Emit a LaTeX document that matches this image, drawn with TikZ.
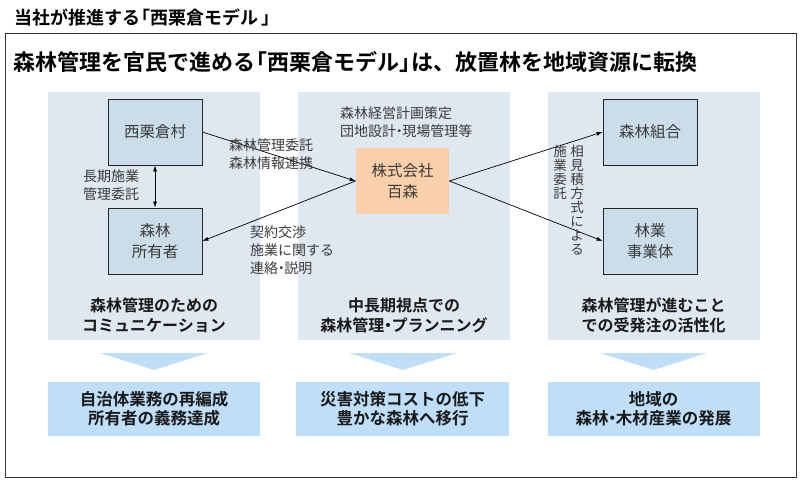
\documentclass[tikz,border=0pt]{standalone}
\usepackage{fontspec}
\setmainfont{Noto Sans CJK JP}[BoldFont={Noto Sans CJK JP Bold}]
\usetikzlibrary{arrows.meta}
\definecolor{panelbg}{HTML}{DFE8F0}
\definecolor{nodefill}{HTML}{CCDDEA}
\definecolor{orangefill}{HTML}{FAD0AA}
\definecolor{skyblue}{HTML}{BEDFF7}
\definecolor{txt}{HTML}{3A3A3A}
\newcommand{\lbrk}{\kern-0.45em「}
\newcommand{\rbrk}{」\kern-0.45em}
\newcommand{\nakaguro}{\kern-0.28em・\kern-0.28em}
\begin{document}
\begin{tikzpicture}[x=1pt,y=-1pt,
  panelbox/.style={fill=panelbg, draw=none, minimum width=212pt, minimum height=248pt, inner sep=0pt},
  nbox/.style={draw=black!85, fill=nodefill, minimum width=94pt, minimum height=66pt, align=center,
    font={\fontsize{15.5}{21}\selectfont}, text=txt, line width=0.8pt, inner sep=0pt},
  lbl/.style={align=left, font={\fontsize{14}{18}\selectfont}, text=txt, inner sep=0pt},
  verttext/.style={align=center, font={\fontsize{13.5}{14}\selectfont}, text=txt, inner sep=0pt},
  captext/.style={align=center, font={\fontsize{16}{20}\selectfont\bfseries}, text=black!90, inner sep=0pt},
  resultbox/.style={fill=skyblue, draw=none, minimum width=212pt, minimum height=54pt, align=center,
    font={\fontsize{16.5}{19}\selectfont\bfseries}, text=black!90, inner sep=0pt},
  con/.style={-{Latex[length=6pt,width=4pt]}, line width=0.7pt, black},
  dcon/.style={{Latex[length=6pt,width=4pt]}-{Latex[length=6pt,width=4pt]}, line width=0.7pt, black}
]
\useasboundingbox (0,0) rectangle (800,480);
\fill[white] (0,0) rectangle (800,480);

% title and frame
\node[anchor=west, inner sep=0pt, font={\fontsize{18}{20}\selectfont\bfseries}] (title) at (14,18) {当社が推進する\lbrk 西栗倉モデル\kern0.2em\rbrk};
\draw[line width=1pt, black!80] (5,33) rectangle (796,477);
\node[anchor=west, inner sep=0pt, font={\fontsize{22}{26}\selectfont\bfseries}] (head) at (13,62) {森林管理を官民で進める\lbrk 西栗倉モデル\rbrk は、放置林を地域資源に転換};

% panels
\node[panelbox] (p1) at (154,216) {};
\node[panelbox] (p2) at (404,216) {};
\node[panelbox] (p3) at (653.5,216) {};

% nodes
\node[nbox] (mura) at (155,132) {西栗倉村};
\node[nbox] (shoyu) at (155,241) {森林\\所有者};
\node[nbox, fill=orangefill, draw=none, minimum width=93pt] (hyaku) at (402.5,181) {株式会社\\百森};
\node[nbox] (kumiai) at (650,132) {森林組合};
\node[nbox] (jigyo) at (650,241) {林業\\事業体};

% connectors
\draw[dcon] (mura.south) -- (shoyu.north);
\draw[con] (mura.east) -- (hyaku.west);
\draw[con] (hyaku.west) -- (shoyu.east);
\draw[con] (hyaku.east) -- (kumiai.west);
\draw[con] (hyaku.east) -- (jigyo.west);

% labels
\node[lbl, anchor=north west] (l1) at (83,170) {長期施業\\管理委託};
\node[lbl, anchor=north west] (l2) at (229,138) {森林管理委託\\森林情報連携};
\node[lbl, anchor=north west] (l3) at (250,226) {契約交渉\\施業に関する\\連絡\nakaguro 説明};
\node[lbl, anchor=north west] (l4) at (340,106) {森林経営計画策定\\団地設計\nakaguro 現場管理等};
\node[verttext, anchor=north] (v1) at (577,145) {相\\見\\積\\方\\式\\に\\よ\\る};
\node[verttext, anchor=north] (v2) at (560,145) {施\\業\\委\\託};

% captions
\node[captext] (c1) at (154,315) {森林管理のための\\コミュニケーション};
\node[captext] (c2) at (404,315) {中長期視点での\\森林管理\nakaguro プランニング};
\node[captext] (c3) at (653.5,315) {森林管理が進むこと\\での受発注の活性化};

% down triangles
\fill[skyblue] (100,353) -- (208,353) -- (154,370) -- cycle;
\fill[skyblue] (349,353) -- (457,353) -- (403,370) -- cycle;
\fill[skyblue] (600,353) -- (707,353) -- (653.5,370) -- cycle;

% results
\node[resultbox] (r1) at (154,409) {自治体業務の再編成\\所有者の義務達成};
\node[resultbox, minimum width=213pt] (r2) at (402.5,409) {災害対策コストの低下\\豊かな森林へ移行};
\node[resultbox] (r3) at (653.5,409) {地域の\\森林\nakaguro 木材産業の発展};
\end{tikzpicture}
\end{document}
